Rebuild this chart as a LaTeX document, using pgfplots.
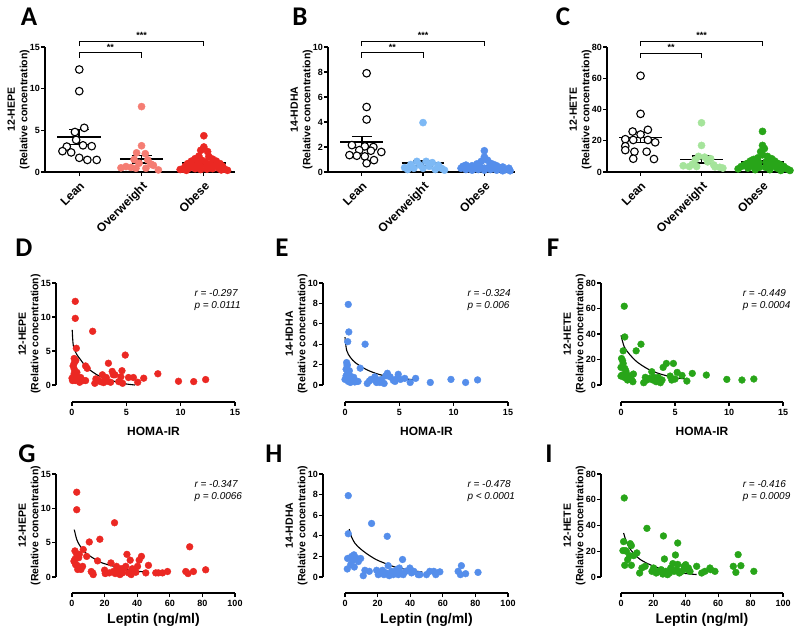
\documentclass[border=0pt]{standalone}
\usepackage{fontspec}
\setmainfont{Liberation Sans}
\newfontfamily\letterfont{Carlito}
\usepackage{pgfplots}
\pgfplotsset{compat=1.18}

\definecolor{hepeR}{RGB}{235,40,35}
\definecolor{hepeL}{RGB}{245,125,115}
\definecolor{hdhaB}{RGB}{85,142,235}
\definecolor{hdhaL}{RGB}{125,185,245}
\definecolor{heteG}{RGB}{40,165,25}
\definecolor{heteL}{RGB}{165,228,155}

\pgfplotsset{
  base/.style={scale only axis, clip=false,
    axis x line*=bottom, axis y line*=left,
    axis line style={line width=1.4pt, black},
    every tick/.style={line width=1.1pt, black},
    tick align=outside, major tick length=4pt,
    tick label style={font=\fontsize{9}{10}\selectfont\bfseries},
    yticklabel style={inner sep=1pt},
    /pgf/number format/assume math mode=true,
    ylabel style={font=\fontsize{10.5}{12.5}\selectfont\bfseries, align=center, inner sep=0pt},
    ylabel shift=-1pt,
  },
  cat/.style={base, height=125pt, xmin=-0.55, xmax=2.5, ymin=0,
    xtick={0,1,2}, xticklabels={Lean,Overweight,Obese},
    xticklabel style={rotate=45, anchor=north east, font=\fontsize{12}{12}\selectfont\bfseries}},
  sc/.style={base, xmin=0, ymin=0},
  lean/.style={only marks, mark=*, mark size=3.8pt, mark options={fill=white, draw=black, line width=1.1pt}},
  cdots/.style={only marks, mark=*, mark size=3.6pt, mark options={fill=#1, draw=#1}},
  dots/.style={only marks, mark=*, mark size=3.4pt, mark options={fill=#1, draw=#1}},
  msem/.style={black, line width=1.6pt, unbounded coords=jump},
  fit/.style={black, line width=1.1pt, smooth, no marks},
}
\newcommand{\rp}[2]{\node[anchor=north west, align=left, font=\fontsize{10}{12}\selectfont\itshape] at (rel axis cs:0.73,0.97) {#1\\#2};}
\newcommand{\stars}{\fontsize{9}{9}\selectfont\bfseries}

\begin{document}
\begin{tikzpicture}[x=1pt,y=1pt]
\useasboundingbox (0,0) rectangle (800,633);

% ---------------- A ----------------
\begin{axis}[cat, at={(45pt,461pt)}, anchor=south west, width=190pt,
  ymax=15, ytick={0,5,10,15}, ylabel={12-HEPE\\(Relative concentration)}]
\addplot[lean] coordinates {(0,12.3) (0,9.7) (-0.07,4.8) (0.08,5.3) (-0.05,3.85) (-0.2,3.05) (0.06,3.2) (0.2,3.1) (-0.27,2.5) (-0.13,2.35) (0,1.7) (0.13,1.45) (0.28,1.45)};
\addplot[cdots=hepeL] coordinates {(1,7.85) (1,3.15) (0.92,2.3) (1.06,2.2) (0.88,1.5) (1.1,1.45) (0.96,1.05) (1.15,0.95) (0.75,0.65) (0.83,0.55) (0.67,0.5) (0.91,0.45) (1.19,0.8) (1.27,0.25) (1.07,0.45)};
\addplot[cdots=hepeR] coordinates {(2,4.35) (2,3.0) (2.06,2.45) (1.95,2.6) (1.92,1.9) (2.08,1.85) (1.86,1.6) (2.14,1.55) (1.8,1.3) (2.2,1.3) (1.97,1.4) (2.03,1.2) (1.74,1.0) (2.26,1.0) (1.9,1.05) (2.1,0.95) (1.7,0.7) (2.3,0.7) (1.82,0.75) (2.18,0.8) (1.95,0.7) (2.05,0.65) (1.67,0.35) (2.33,0.35) (1.76,0.45) (2.24,0.45) (1.86,0.4) (2.14,0.4) (1.95,0.3) (2.05,0.35) (1.72,0.2) (2.28,0.25) (2.38,0.2) (1.62,0.3)};
\addplot[msem] coordinates {(-0.35,4.2) (0.35,4.2) (0,nan) (-0.16,5.1) (0.16,5.1) (0,nan) (-0.16,3.3) (0.16,3.3) (0,nan) (0,3.3) (0,5.1)};
\addplot[msem] coordinates {(0.65,1.55) (1.35,1.55) (1,nan) (0.84,2.0) (1.16,2.0) (1,nan) (0.84,1.1) (1.16,1.1) (1,nan) (1,1.1) (1,2.0)};
\addplot[msem] coordinates {(1.65,1.1) (2.35,1.1) (2,nan) (1.84,1.25) (2.16,1.25) (2,nan) (1.84,0.95) (2.16,0.95) (2,nan) (2,0.95) (2,1.25)};
\draw[line width=0.8pt] (axis cs:0,13.7) -- (axis cs:0,14.3) -- (axis cs:1,14.3) -- (axis cs:1,13.7);
\draw[line width=0.8pt] (axis cs:0,15.1) -- (axis cs:0,15.7) -- (axis cs:2,15.7) -- (axis cs:2,15.1);
\node[font=\stars] at (axis cs:0.5,14.95) {**};
\node[font=\stars] at (axis cs:1,16.35) {***};
\end{axis}

% ---------------- B ----------------
\begin{axis}[cat, at={(328pt,461pt)}, anchor=south west, width=187pt,
  ymax=10, ytick={0,2,4,6,8,10}, ylabel={14-HDHA\\(Relative concentration)}]
\addplot[lean] coordinates {(0.08,7.9) (0.08,5.2) (0.08,4.2) (-0.16,2.15) (0.05,2.05) (0.19,2.0) (-0.04,1.75) (0.15,1.7) (0.32,1.6) (-0.08,1.3) (0.05,1.25) (-0.2,1.35) (0.2,0.95) (0.08,0.7)};
\addplot[cdots=hdhaL] coordinates {(1,3.95) (0.9,0.85) (1.05,0.85) (1.15,0.75) (0.8,0.6) (1.25,0.55) (0.95,0.55) (1.1,0.45) (0.7,0.35) (1.3,0.3) (0.85,0.3) (1.2,0.2) (1.35,0.15) (0.75,0.2) (1,0.3)};
\addplot[cdots=hdhaB] coordinates {(2,1.7) (2,1.2) (2.05,0.95) (1.95,0.85) (2.1,0.7) (1.88,0.65) (1.7,0.55) (2.15,0.6) (1.8,0.5) (2.2,0.5) (1.65,0.45) (2.3,0.4) (1.92,0.45) (2.08,0.4) (1.75,0.35) (2.25,0.35) (1.85,0.3) (2.15,0.3) (2.4,0.3) (1.62,0.3) (2.35,0.2) (1.7,0.2) (2,0.3) (2.1,0.2) (1.9,0.2) (2.2,0.15) (1.8,0.15) (2.3,0.1) (2.42,0.1) (2,0.15)};
\addplot[msem] coordinates {(-0.35,2.4) (0.35,2.4) (0,nan) (-0.16,2.85) (0.16,2.85) (0,nan) (-0.16,1.95) (0.16,1.95) (0,nan) (0,1.95) (0,2.85)};
\addplot[msem] coordinates {(0.65,0.7) (1.35,0.7) (1,nan) (0.84,0.9) (1.16,0.9) (1,nan) (0.84,0.5) (1.16,0.5) (1,nan) (1,0.5) (1,0.9)};
\addplot[msem] coordinates {(1.65,0.45) (2.35,0.45) (2,nan) (1.84,0.52) (2.16,0.52) (2,nan) (1.84,0.38) (2.16,0.38) (2,nan) (2,0.38) (2,0.52)};
\draw[line width=0.8pt] (axis cs:0,9.13) -- (axis cs:0,9.53) -- (axis cs:1,9.53) -- (axis cs:1,9.13);
\draw[line width=0.8pt] (axis cs:0,10.07) -- (axis cs:0,10.47) -- (axis cs:2,10.47) -- (axis cs:2,10.07);
\node[font=\stars] at (axis cs:0.5,9.97) {**};
\node[font=\stars] at (axis cs:1,10.9) {***};
\end{axis}

% ---------------- C ----------------
\begin{axis}[cat, at={(607pt,461pt)}, anchor=south west, width=186pt,
  ymax=80, ytick={0,20,40,60,80}, ylabel={12-HETE\\(Relative concentration)}]
\addplot[lean] coordinates {(0,61.6) (0,37.2) (-0.13,25.9) (0.12,27) (0,24) (-0.25,21) (-0.12,20.5) (0.12,20.5) (0.24,19) (-0.25,16.5) (-0.25,14) (-0.1,13) (0.1,13) (-0.12,8.5) (0.22,8.3)};
\addplot[cdots=heteL] coordinates {(1,31.5) (1,17) (0.95,10) (1.05,9.5) (1.15,8.5) (0.9,8) (1.1,6.5) (0.85,5) (1.2,4.5) (0.7,4) (0.8,3.5) (1.3,3) (1.22,3.3) (0.92,3.5) (1.35,2.5)};
\addplot[cdots=heteG] coordinates {(2,26) (2,17) (2.03,15) (1.97,13) (2,11) (2.08,10) (1.92,9) (2.15,8.5) (1.85,8) (2.2,7) (1.8,7) (2.06,6.5) (1.94,6) (2.25,5.5) (1.75,5.5) (2.12,5) (1.88,5) (2.3,4.5) (1.7,4.5) (2.18,4) (1.82,4) (2.35,3.5) (1.65,3.5) (2.05,3) (1.95,3) (2.24,2.5) (1.76,2.5) (2.4,2) (1.6,2) (2.12,1.5) (1.88,1.5) (2.3,1) (2.45,1)};
\addplot[msem] coordinates {(-0.35,22) (0.35,22) (0,nan) (-0.16,25.2) (0.16,25.2) (0,nan) (-0.16,18.8) (0.16,18.8) (0,nan) (0,18.8) (0,25.2)};
\addplot[msem] coordinates {(0.65,8) (1.35,8) (1,nan) (0.84,10.3) (1.16,10.3) (1,nan) (0.84,5.8) (1.16,5.8) (1,nan) (1,5.8) (1,10.3)};
\addplot[msem] coordinates {(1.65,6.3) (2.35,6.3) (2,nan) (1.84,7.4) (2.16,7.4) (2,nan) (1.84,5.2) (2.16,5.2) (2,nan) (2,5.2) (2,7.4)};
\draw[line width=0.8pt] (axis cs:0,73.0) -- (axis cs:0,76.2) -- (axis cs:1,76.2) -- (axis cs:1,73.0);
\draw[line width=0.8pt] (axis cs:0,80.5) -- (axis cs:0,83.8) -- (axis cs:2,83.8) -- (axis cs:2,80.5);
\node[font=\stars] at (axis cs:0.5,79.6) {**};
\node[font=\stars] at (axis cs:1,87.2) {***};
\end{axis}

% ---------------- D ----------------
\begin{axis}[sc, at={(72pt,248pt)}, anchor=south west, width=163pt, height=102pt,
  axis x line shift=17pt, axis y line shift=16pt,
  xmax=15, ymax=15, xtick={0,5,10,15}, ytick={0,5,10,15},
  ylabel={12-HEPE\\(Relative concentration)}]
\addplot[dots=hepeR] coordinates {(0.3,12.3) (0.3,9.8) (0.4,5.4) (0.2,3.9) (0.2,3.2) (0.1,2.8) (0.2,2.35) (0.45,1.85) (0.2,1.7) (0.0,1.0) (0.45,1.2) (0.05,0.65) (0.3,0.65) (0.6,0.75) (0.8,1.1) (1.0,0.65) (1.25,0.65) (1.25,2.8) (1.4,2.45) (1.9,7.9) (2.1,0.25) (2.35,0.75) (2.6,0.5) (2.8,1.5) (3.0,0.75) (3.15,1.1) (3.25,0.55) (3.35,3.2) (3.55,0.4) (3.7,2.0) (3.8,1.5) (3.95,1.5) (4.3,0.5) (4.5,1.2) (4.6,2.1) (4.65,0.25) (4.9,4.4) (5.2,1.1) (5.65,1.1) (6.05,0.4) (6.6,1.0) (7.9,1.65) (9.8,0.55) (11.2,0.5) (12.3,0.8) (0.15,1.3) (0.7,0.4) (2.2,0.9) (2.9,0.35) (0.35,3.6)};
\addplot[fit] coordinates {(0.02,8.1) (0.12,5.8) (0.4,4.6) (0.75,3.8) (1.35,2.6) (2.3,1.5) (3.2,0.9) (4.1,0.45) (5.0,0.15) (5.8,0.0)};
\rp{r = -0.297}{p = 0.0111}
\end{axis}

% ---------------- E ----------------
\begin{axis}[sc, at={(345pt,248pt)}, anchor=south west, width=163pt, height=102pt,
  axis x line shift=17pt, axis y line shift=22pt,
  xmax=15, ymax=10, xtick={0,5,10,15}, ytick={0,2,4,6,8,10},
  ylabel={14-HDHA\\(Relative concentration)}]
\addplot[dots=hdhaB] coordinates {(0.3,7.9) (0.35,5.2) (0.25,4.25) (0.15,2.2) (0.2,1.9) (0.1,1.55) (0.25,1.2) (0,0.55) (0.3,0.35) (0.45,0.9) (0.6,0.55) (0.8,0.75) (1.05,0.35) (1.2,0.35) (1.4,1.65) (1.85,4.0) (2.05,0.15) (2.25,0.4) (2.4,0.55) (2.75,0.8) (2.9,0.25) (3.05,0.45) (3.2,0.25) (3.35,0.55) (3.6,0.15) (3.75,0.9) (3.9,1.15) (4.15,0.8) (4.45,0.45) (4.6,0.35) (4.8,0.65) (4.9,1.05) (5.1,0.55) (5.5,0.65) (6.0,0.25) (6.5,0.65) (7.85,0.25) (9.75,0.55) (11.1,0.25) (12.2,0.5) (0.1,0.9) (0.2,2.0) (0.4,1.4) (0.5,0.25) (0.9,0.3)};
\addplot[fit] coordinates {(0.0,4.7) (0.15,3.4) (0.5,2.7) (1.0,2.15) (2.0,1.5) (3.0,1.08) (4.0,0.82) (5.0,0.65) (6.6,0.5)};
\rp{r = -0.324}{p = 0.006}
\end{axis}

% ---------------- F ----------------
\begin{axis}[sc, at={(621pt,248pt)}, anchor=south west, width=162pt, height=102pt,
  axis x line shift=17pt, axis y line shift=20pt,
  xmax=15, ymax=80, xtick={0,5,10,15}, ytick={0,20,40,60,80},
  ylabel={12-HETE\\(Relative concentration)}]
\addplot[dots=heteG] coordinates {(0.3,61.8) (0.35,37.7) (0.2,26.8) (0.05,20.8) (0.15,19) (0.2,16.9) (0,13.8) (0.35,13) (0.1,7.8) (0,7) (0.3,6) (0.5,9) (0.6,3.9) (0.85,7) (1.0,3.9) (1.15,8.6) (1.1,2.6) (1.4,26.8) (1.85,32) (2.1,1.8) (2.25,6) (2.4,3.9) (2.65,5.2) (2.85,10.4) (2.95,3.9) (3.05,6) (3.25,2.6) (3.45,6) (3.65,1.8) (3.8,3.9) (3.9,13.8) (4.2,16.9) (4.55,7) (4.7,3.9) (4.85,16.9) (5.0,4.7) (5.2,9.9) (5.65,7.5) (6.1,3.1) (6.6,9.1) (7.9,7.8) (9.8,4.4) (11.2,3.9) (12.3,4.7) (0.45,11) (0.7,5)};
\addplot[fit] coordinates {(0.0,39) (0.3,30) (0.8,24) (1.5,18) (2.5,12.5) (3.5,9) (4.5,6.7) (5.3,5.4) (6.2,4.5)};
\rp{r = -0.449}{p = 0.0004}
\end{axis}

% ---------------- G ----------------
\begin{axis}[sc, at={(72pt,56pt)}, anchor=south west, width=163pt, height=103pt,
  axis x line shift=16pt, axis y line shift=16pt,
  xmax=100, ymax=15, xtick={0,20,40,60,80,100}, ytick={0,5,10,15},
  ylabel={12-HEPE\\(Relative concentration)}]
\addplot[dots=hepeR] coordinates {(2.9,12.35) (2.9,9.8) (1.8,3.8) (1.8,2.6) (2.9,3.3) (4.5,3.3) (3.1,1.7) (4.5,1.3) (5.5,1.1) (6.5,1.55) (6.9,4.0) (9,3.0) (10.6,5.1) (11.8,0.8) (12.7,0.6) (13,0.35) (15.7,2.35) (17.1,5.5) (20,1.0) (20.4,0.5) (22.9,0.6) (23.9,2.05) (25.3,0.8) (26.1,7.9) (26.5,0.5) (27.3,1.55) (28.6,0.8) (29.4,0.35) (30,1.2) (31,0.6) (32,1.3) (33,1.55) (33.7,3.3) (34.7,0.6) (35.7,2.45) (36.3,0.35) (37,1.2) (39.2,0.7) (40.2,1.55) (41.2,2.45) (42.6,3.0) (45.3,0.6) (46.9,1.7) (51.4,0.6) (53,0.6) (55.5,0.6) (58.6,0.8) (69.8,0.8) (71.2,0.5) (72.2,4.4) (74.5,0.8) (82,1.05) (1.2,2.3) (2.2,1.8) (3.5,1.1) (4.1,2.8)};
\addplot[fit] coordinates {(1.4,6.9) (3,5.4) (5,4.5) (8,3.6) (12,2.9) (18,2.1) (25,1.6) (33,1.1) (40,0.85) (46,0.7)};
\rp{r = -0.347}{p = 0.0066}
\end{axis}

% ---------------- H ----------------
\begin{axis}[sc, at={(345pt,56pt)}, anchor=south west, width=163pt, height=103pt,
  axis x line shift=16pt, axis y line shift=22pt,
  xmax=100, ymax=10, xtick={0,20,40,60,80,100}, ytick={0,2,4,6,8,10},
  ylabel={14-HDHA\\(Relative concentration)}]
\addplot[dots=hdhaB] coordinates {(2.0,7.9) (2.0,4.2) (1.6,1.8) (1.4,0.78) (3.1,1.85) (3.5,1.2) (4.1,2.0) (4.7,1.6) (5.5,2.15) (5.7,0.97) (6.7,1.85) (8.2,1.5) (9.6,1.8) (11.2,0.13) (12.2,0.65) (14.9,0.55) (16.3,5.2) (19.4,0.65) (20.4,0.23) (21.8,0.4) (23,0.65) (23.9,0.23) (25.1,0.4) (25.9,3.95) (26.5,1.1) (27.1,0.13) (28.6,0.55) (29.6,0.23) (30.6,0.4) (31.6,0.7) (32.7,0.23) (33.3,0.87) (34.1,0.4) (35.3,1.7) (35.7,0.23) (37.3,0.55) (39.8,0.87) (40.8,0.4) (42.2,0.55) (44.9,0.23) (45.9,0.23) (50,0.23) (52,0.55) (54.5,0.55) (55.7,0.23) (58.2,0.5) (69.4,0.55) (71.4,1.1) (70.8,0.23) (74,0.32) (81.6,0.45)};
\addplot[fit] coordinates {(2.6,4.65) (4,3.9) (6,3.3) (9,2.8) (13,2.3) (19,1.7) (25,1.3) (30,1.0) (40,0.65) (47.5,0.49)};
\rp{r = -0.478}{p < 0.0001}
\end{axis}

% ---------------- I ----------------
\begin{axis}[sc, at={(621pt,56pt)}, anchor=south west, width=162pt, height=103pt,
  axis x line shift=16pt, axis y line shift=20pt,
  xmax=100, ymax=80, xtick={0,20,40,60,80,100}, ytick={0,20,40,60,80},
  ylabel={12-HETE\\(Relative concentration)}]
\addplot[dots=heteG] coordinates {(2.0,61.4) (1.6,27.5) (1.2,20.5) (2.7,20.5) (2.3,9.1) (3.3,20) (4.1,13.5) (5.3,16.6) (5.7,25.9) (6.4,24.4) (6.4,9.1) (7.8,16.6) (9.8,18.7) (11.5,3.1) (12.9,7) (14.9,8.3) (16,37.8) (19.1,4.4) (20.1,7) (21.7,3.1) (23.2,4.4) (24.8,5.7) (25.8,2.3) (26.2,31.9) (26.8,14) (27.7,4.4) (28.7,1.8) (29.9,3.1) (30.7,7) (32,10.4) (32.8,4.4) (33.6,17.1) (34.4,5.7) (35,26.4) (35,9.8) (36,3.1) (37.5,4.4) (38.9,8.3) (39.9,9.6) (41,5.7) (41.6,7) (42.6,4.4) (46.7,8.3) (49.8,3.1) (51.8,4.4) (54.9,7) (55.3,5.7) (58,4.4) (69.3,8.3) (70.9,3.6) (72.3,17.4) (74,8.8) (82,4.4)};
\addplot[fit] coordinates {(1.6,34.2) (3,28.5) (5,23) (8,18) (12,13.5) (18,9.5) (25,6.3) (32,4.2) (40,2.7) (46.7,1.9)};
\rp{r = -0.416}{p = 0.0009}
\end{axis}

% ---------------- labels ----------------
\begin{scope}[every node/.style={font=\letterfont\fontsize{27}{27}\selectfont\bfseries}]
\node at (29,616) {A};
\node at (300,616) {B};
\node at (563,616) {C};
\node at (24,385) {D};
\node at (282,385) {E};
\node at (553,385) {F};
\node at (27,179) {G};
\node at (274,179) {H};
\node at (549,179) {I};
\end{scope}
\begin{scope}[every node/.style={font=\fontsize{12}{12}\selectfont\bfseries}]
\node at (153.5,202) {HOMA-IR};
\node at (426.5,202) {HOMA-IR};
\node at (702,202) {HOMA-IR};
\end{scope}
\begin{scope}[every node/.style={font=\fontsize{14}{14}\selectfont\bfseries}]
\node at (153.5,13) {Leptin (ng/ml)};
\node at (426.5,13) {Leptin (ng/ml)};
\node at (702,13) {Leptin (ng/ml)};
\end{scope}
\end{tikzpicture}
\end{document}
